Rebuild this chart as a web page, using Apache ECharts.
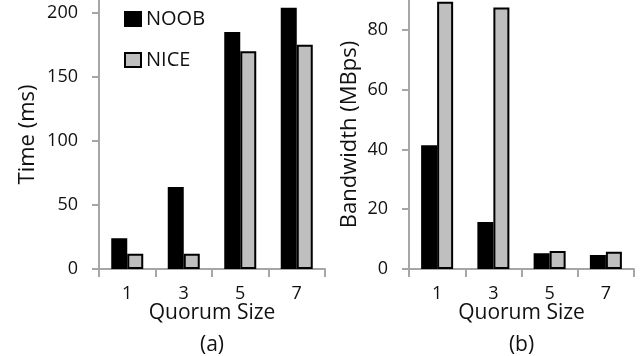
<!DOCTYPE html>
<html>
<head>
<meta charset="utf-8">
<script src="https://cdn.jsdelivr.net/npm/echarts@6/dist/echarts.min.js"></script>
<style>
    html, body {
        margin: 0;
        padding: 0;
        background: #ffffff;
    }
    #main {
        width: 644px;
        height: 356px;
    }
</style>
</head>
<body>
<div id="main"></div>
<script>
// data
var quorumSizes = ['1', '3', '5', '7'];
var timeNoob = [24, 64, 185, 204];
var timeNice = [12, 12, 170, 175];
var bwNoob = [41.4, 15.7, 5.3, 4.7];
var bwNice = [89.4, 87.5, 6.0, 5.8];
var timeTicks = [0, 50, 100, 150, 200];
var bwTicks = [0, 20, 40, 60, 80];

var font = '"Open Sans", sans-serif';
var axisGray = '#a6a6a6';
var textColor = '#111';

function xAxisOf(gridIndex, name) {
    return {
        type: 'category',
        gridIndex: gridIndex,
        data: quorumSizes,
        name: name,
        nameLocation: 'middle',
        nameGap: 28,
        nameMoveOverlap: false,
        nameTextStyle: {
            fontFamily: font,
            fontSize: 21,
            color: textColor,
            lineHeight: 32
        },
        axisLine: {lineStyle: {color: axisGray, width: 2}},
        axisTick: {show: true, length: 8, lineStyle: {color: axisGray, width: 2}},
        axisLabel: {
            margin: 16,
            fontFamily: font,
            fontSize: 18,
            color: textColor
        }
    };
}

function yAxisOf(gridIndex, name, max, ticks, gap) {
    return {
        type: 'value',
        gridIndex: gridIndex,
        min: 0,
        max: max,
        interval: ticks[1] - ticks[0],
        name: name,
        nameLocation: 'middle',
        nameGap: gap,
        nameMoveOverlap: false,
        nameTextStyle: {
            fontFamily: font,
            fontSize: 22,
            color: textColor
        },
        splitLine: {show: false},
        axisLine: {show: true, lineStyle: {color: axisGray, width: 2}},
        axisTick: {show: true, length: 7, customValues: ticks, lineStyle: {color: axisGray, width: 2}},
        axisLabel: {
            customValues: ticks,
            margin: 21,
            fontFamily: font,
            fontSize: 18,
            color: textColor
        }
    };
}

function barOf(name, xi, data, fill) {
    return {
        name: name,
        type: 'bar',
        xAxisIndex: xi,
        yAxisIndex: xi,
        barWidth: 16,
        barGap: '0%',
        data: data,
        itemStyle: {
            color: fill,
            borderColor: '#000',
            borderWidth: 2
        }
    };
}

var myChart = echarts.init(document.getElementById('main'));

var option = {
    animation: false,
    legend: {
        data: ['NOOB', 'NICE'],
        orient: 'vertical',
        left: 124,
        top: 8,
        padding: 0,
        itemWidth: 16,
        itemHeight: 14,
        itemGap: 19,
        icon: 'rect',
        textStyle: {
            fontFamily: font,
            fontSize: 20,
            color: textColor,
            lineHeight: 22
        }
    },
    grid: [
        {left: 99, top: 0, width: 226, height: 269, outerBoundsMode: 'none'},
        {left: 409, top: 0, width: 225, height: 269, outerBoundsMode: 'none'}
    ],
    xAxis: [
        xAxisOf(0, 'Quorum Size\n(a)'),
        xAxisOf(1, 'Quorum Size\n(b)')
    ],
    yAxis: [
        yAxisOf(0, 'Time (ms)', 210, timeTicks, 60),
        yAxisOf(1, 'Bandwidth (MBps)', 90, bwTicks, 48)
    ],
    series: [
        barOf('NOOB', 0, timeNoob, '#000'),
        barOf('NICE', 0, timeNice, '#bfbfbf'),
        barOf('NOOB', 1, bwNoob, '#000'),
        barOf('NICE', 1, bwNice, '#bfbfbf')
    ]
};

myChart.setOption(option);
</script>
</body>
</html>
